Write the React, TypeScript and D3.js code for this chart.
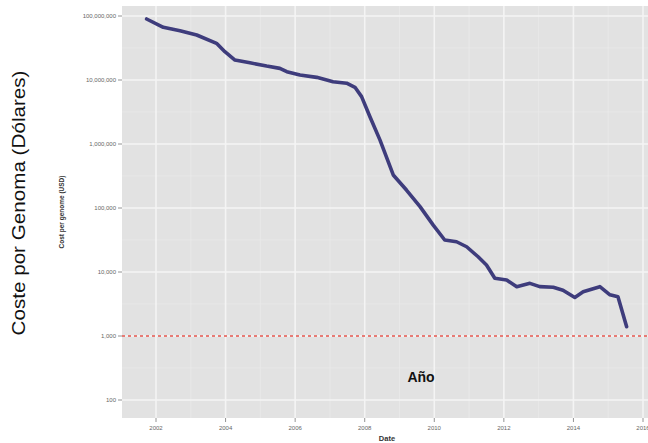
import React from "react";
import * as d3 from "d3";

const years = [2001.73, 2002.21, 2002.69, 2003.17, 2003.74, 2003.98, 2004.27, 2004.7, 2005.18, 2005.56, 2005.76, 2006.14, 2006.62, 2007.09, 2007.48, 2007.72, 2007.91, 2008.15, 2008.44, 2008.82, 2009.2, 2009.59, 2009.97, 2010.3, 2010.64, 2010.93, 2011.26, 2011.5, 2011.74, 2012.08, 2012.37, 2012.75, 2013.03, 2013.42, 2013.7, 2014.04, 2014.28, 2014.76, 2015.05, 2015.28, 2015.53];
const costs = [89800000, 66500000, 58900000, 50500000, 37400000, 27700000, 20500000, 18600000, 16500000, 15200000, 13500000, 12000000, 11000000, 9400000, 8900000, 7700000, 5500000, 2670000, 1150000, 328000, 191000, 105000, 54000, 31600, 29700, 24800, 17300, 12900, 8000, 7500, 5900, 6650, 5900, 5770, 5200, 4000, 4900, 5900, 4400, 4100, 1400];

const xTicks = [2002, 2004, 2006, 2008, 2010, 2012, 2014, 2016];
const xMinor = [2001, 2003, 2005, 2007, 2009, 2011, 2013, 2015];
const yTicks = [100, 1000, 10000, 100000, 1000000, 10000000, 100000000];
const yTickLabels = ["100", "1,000", "10,000", "100,000", "1,000,000", "10,000,000", "100,000,000"];
const refLine = 1000;

export default function App() {
  const W = 648, H = 443;
  const pL = 122, pR = 648, pT = 6, pB = 418;
  const x = d3.scaleLinear().domain([2002, 2016]).range([156, 643]);
  const y = d3.scaleLog().domain([100, 100000000]).range([400, 16]);
  const yMinor = yTicks.slice(0, -1).map((v) => v * Math.sqrt(10));
  yMinor.push(100000000 * Math.sqrt(10));
  const pts = years.map((yr, i) => [yr, costs[i]] as [number, number]);
  const line = d3
    .line<[number, number]>()
    .x((d) => x(d[0]))
    .y((d) => y(d[1]))
    .curve(d3.curveLinear);
  const tickFont = "'Liberation Sans', Arial, sans-serif";
  return (
    <svg width={W} height={H} style={{ position: "absolute", left: 0, top: 0, background: "#fff" }}>
      <rect x={0} y={0} width={W} height={H} fill="#ffffff" />
      <rect x={pL} y={pT} width={pR - pL} height={pB - pT} fill="#e2e2e2" />
      <g clipPath="url(#clip)">
        <defs>
          <clipPath id="clip">
            <rect x={pL} y={pT} width={pR - pL} height={pB - pT} />
          </clipPath>
        </defs>
        {xMinor.map((t) => (
          <line key={"xm" + t} x1={x(t)} x2={x(t)} y1={pT} y2={pB} stroke="#eaeaea" strokeWidth={0.8} />
        ))}
        {yMinor.map((t) => (
          <line key={"ym" + t} x1={pL} x2={pR} y1={y(t)} y2={y(t)} stroke="#eaeaea" strokeWidth={0.8} />
        ))}
        {xTicks.map((t) => (
          <line key={"xg" + t} x1={x(t)} x2={x(t)} y1={pT} y2={pB} stroke="#f4f4f4" strokeWidth={1.6} />
        ))}
        {yTicks.map((t) => (
          <line key={"yg" + t} x1={pL} x2={pR} y1={y(t)} y2={y(t)} stroke="#f4f4f4" strokeWidth={1.6} />
        ))}
        <line x1={pL} x2={pR} y1={y(refLine)} y2={y(refLine)} stroke="#e4544c" strokeWidth={1.6} strokeDasharray="3,3" />
        <path d={line(pts) || ""} fill="none" stroke="#3e3c7c" strokeWidth={3.6} strokeLinejoin="round" strokeLinecap="round" />
      </g>
      {yTicks.map((t, i) => (
        <g key={"yt" + t}>
          <line x1={pL - 4} x2={pL} y1={y(t)} y2={y(t)} stroke="#777" strokeWidth={0.8} />
          <text x={pL - 6} y={y(t)} dy="0.35em" textAnchor="end" fontSize={6} fill="#666" fontFamily={tickFont}>
            {yTickLabels[i]}
          </text>
        </g>
      ))}
      {xTicks.map((t) => (
        <g key={"xt" + t}>
          <line x1={x(t)} x2={x(t)} y1={pB} y2={pB + 4} stroke="#777" strokeWidth={0.8} />
          <text x={x(t)} y={pB + 12} textAnchor="middle" fontSize={6} fill="#666" fontFamily={tickFont}>
            {String(t)}
          </text>
        </g>
      ))}
      <text x={387} y={441} textAnchor="middle" fontSize={7.5} fontWeight="bold" fill="#333" fontFamily={tickFont}>
        Date
      </text>
      <text transform="translate(64,212) rotate(-90)" textAnchor="middle" fontSize={6.5} fontWeight="bold" fill="#333" fontFamily={tickFont}>
        Cost per genome (USD)
      </text>
      <text
        transform="translate(25,203) rotate(-90)"
        textAnchor="middle"
        fontSize={19}
        fill="#111"
        fontFamily="'Liberation Sans Narrow', 'Liberation Sans', Arial, sans-serif"
        textLength={265}
        lengthAdjust="spacingAndGlyphs"
      >
        Coste por Genoma (Dólares)
      </text>
      <text x={421} y={382} textAnchor="middle" fontSize={14} fontWeight="bold" fill="#111" fontFamily={tickFont}>
        Año
      </text>
    </svg>
  );
}
